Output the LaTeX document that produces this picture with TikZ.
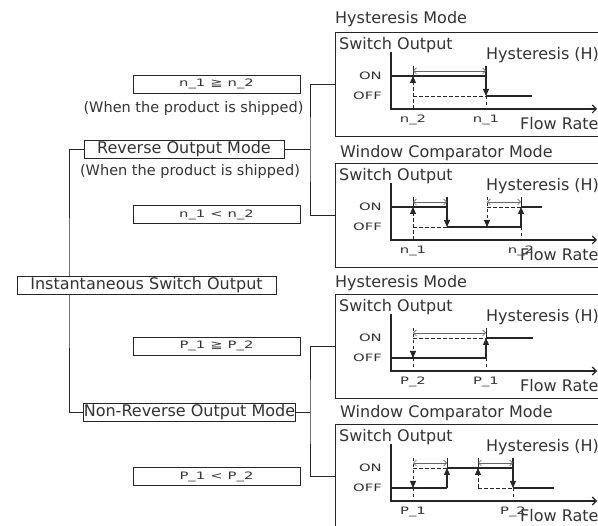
\documentclass[tikz,border=0pt]{standalone}
\usepackage{fontspec}
\setmainfont{DejaVu Sans}
\newfontfamily\widefont[FakeStretch=1.45]{DejaVu Sans}
\usetikzlibrary{arrows.meta}
\pgfdeclarelayer{bg}
\pgfsetlayers{bg,main}
\tikzset{
  big/.style={font=\fontsize{16pt}{19pt}\selectfont, text=black!80, inner sep=0pt},
  shipped/.style={font=\fontsize{14.5pt}{17pt}\selectfont, text=black!80, inner sep=0pt},
  small/.style={font=\widefont\fontsize{10.2pt}{12pt}\selectfont, text=black!80, inner sep=0pt},
  treebox/.style={draw=black!85, line width=0.9pt, fill=white, minimum height=18pt, inner sep=0pt},
  panelbox/.style={draw=black!85, line width=0.9pt, minimum width=300pt, minimum height=104pt, anchor=north west, inner sep=0pt},
  conn/.style={draw=black!85, line width=0.9pt},
  sig/.style={draw=black!85, line width=1.1pt},
  dsig/.style={draw=black!85, line width=0.9pt, dash pattern=on 3.5pt off 2.5pt},
  tickln/.style={draw=black!85, line width=0.8pt},
  hyst/.style={draw=black!60, line width=0.7pt, {Straight Barb[length=3pt,width=6pt]}-{Straight Barb[length=3pt,width=6pt]}},
  axisln/.style={draw=black!85, line width=1.1pt, -{Straight Barb[length=4pt,width=8pt]}},
  >={Triangle[width=6pt,length=7pt]}
}
\newcommand\pcommon[4]{%
  \node[panelbox] (pan#1) at (335,0) {};
  \node[big, anchor=base west] (ttl#1) at (#3,#4) {#2};
  \node[big, anchor=base west] (so#1) at (339,18) {Switch Output};
  \node[big, anchor=base west] (hy#1) at (486,28) {Hysteresis (H)};
  \node[big, anchor=base west] (fr#1) at (520,98) {Flow Rate};
  \node[small, anchor=east] (on#1) at (382,44) {ON};
  \node[small, anchor=east] (off#1) at (382,64) {OFF};
  \draw[axisln] (391,20) |- (597,77);
}
\begin{document}
\begin{tikzpicture}[x=1pt,y=-1pt]
\useasboundingbox (0,0) rectangle (598,526);
\clip (0,0) rectangle (598,526);

% ---------- tree ----------
\node[big, treebox, minimum width=259pt] (inst) at (146.5,285) {Instantaneous Switch Output};
\node[big, treebox, minimum width=200pt] (rev) at (184,149) {Reverse Output Mode};
\node[shipped] (ship2) at (190,172) {(When the product is shipped)};
\node[small, treebox, minimum width=167pt] (nge) at (216.5,84) {n\_1\hspace{5pt}≧\hspace{5pt}n\_2};
\node[shipped] (ship1) at (193.5,109) {(When the product is shipped)};
\node[small, treebox, minimum width=167pt] (nlt) at (216.5,214.5) {n\_1\hspace{5pt}<\hspace{5pt}n\_2};
\node[big, treebox, minimum width=211pt] (nonrev) at (189.5,412) {Non-Reverse Output Mode};
\node[small, treebox, minimum width=167pt] (pge) at (216.5,346) {P\_1\hspace{5pt}≧\hspace{5pt}P\_2};
\node[small, treebox, minimum width=167pt] (plt) at (216.5,476.5) {P\_1\hspace{5pt}<\hspace{5pt}P\_2};

% ---------- panels ----------
\begin{scope}[yshift=-32pt]
  \pcommon{1}{Hysteresis Mode}{335}{-8}
  \draw[sig] (391,44) -- (486,44);
  \draw[sig,->] (486,34) -- (486,64);
  \draw[sig] (486,64) -- (532,64);
  \draw[dsig,->] (413,77) -- (413,44);
  \draw[tickln] (413,34) -- (413,44);
  \draw[dsig] (413,64) -- (486,64);
  \draw[dsig] (486,64) -- (486,77);
  \draw[hyst] (413,39) -- (486,39);
  \node[small] (xa1) at (413,88) {n\_2};
  \node[small] (xb1) at (486,88) {n\_1};
\end{scope}

\begin{scope}[yshift=-163pt]
  \pcommon{2}{Window Comparator Mode}{340}{-5}
  \draw[sig] (391,44) -- (447,44);
  \draw[sig,->] (447,34) -- (447,64);
  \draw[sig] (447,64) -- (521,64);
  \draw[sig,->] (521,64) -- (521,44);
  \draw[tickln] (521,34) -- (521,44);
  \draw[sig] (521,44) -- (542,44);
  \draw[dsig,->] (413,77) -- (413,44);
  \draw[tickln] (413,34) -- (413,44);
  \draw[dsig] (413,64) -- (447,64);
  \draw[dsig,->] (487,34) -- (487,64);
  \draw[dsig] (487,44) -- (521,44);
  \draw[dsig] (521,64) -- (521,77);
  \draw[hyst] (413,39) -- (447,39);
  \draw[hyst] (487,39) -- (521,39);
  \node[small] (xa2) at (413,88) {n\_1};
  \node[small] (xb2) at (521,88) {n\_2};
\end{scope}

\begin{scope}[yshift=-294pt]
  \pcommon{3}{Hysteresis Mode}{335}{-6}
  \draw[sig] (391,64) -- (486,64);
  \draw[sig,->] (486,64) -- (486,44);
  \draw[tickln] (486,34) -- (486,44);
  \draw[sig] (486,44) -- (533,44);
  \draw[dsig,->] (413,34) -- (413,64);
  \draw[dsig] (413,44) -- (486,44);
  \draw[dsig] (413,64) -- (413,77);
  \draw[dsig] (486,64) -- (486,77);
  \draw[hyst] (413,39) -- (486,39);
  \node[small] (xa3) at (413,88) {P\_2};
  \node[small] (xb3) at (486,88) {P\_1};
\end{scope}

\begin{scope}[yshift=-424pt]
  \pcommon{4}{Window Comparator Mode}{340}{-6}
  \draw[sig] (391,64) -- (447,64);
  \draw[sig,->] (447,64) -- (447,44);
  \draw[tickln] (447,34) -- (447,44);
  \draw[sig] (447,44) -- (513,44);
  \draw[sig,->] (513,34) -- (513,64);
  \draw[sig] (513,64) -- (554,64);
  \draw[dsig,->] (413,34) -- (413,64);
  \draw[dsig] (413,44) -- (447,44);
  \draw[dsig] (413,64) -- (413,77);
  \draw[dsig,->] (478,64) -- (478,44);
  \draw[tickln] (478,34) -- (478,44);
  \draw[dsig] (478,64) -- (513,64);
  \draw[dsig] (513,64) -- (513,77);
  \draw[hyst] (413,39) -- (447,39);
  \draw[hyst] (478,39) -- (513,39);
  \node[small] (xa4) at (413,88) {P\_1};
  \node[small] (xb4) at (513,88) {P\_2};
\end{scope}

% ---------- connectors ----------
\coordinate (trunk) at (69,285);
\coordinate (br1) at (310,149);
\coordinate (br2) at (310,412);
\begin{pgfonlayer}{bg}
  \draw[conn] (rev.west) -| (trunk) |- (nonrev.west);
\end{pgfonlayer}
\draw[conn] (rev.east) -- (br1);
\draw[conn] (pan1.west) -| (br1) |- (pan2.west);
\draw[conn] (nonrev.east) -- (br2);
\draw[conn] (pan3.west) -| (br2) |- (pan4.west);
\end{tikzpicture}
\end{document}
